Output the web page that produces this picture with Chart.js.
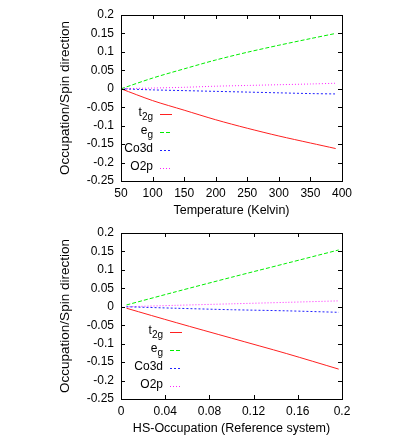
<!DOCTYPE html>
<html>
<head>
<meta charset="utf-8">
<script src="https://cdn.jsdelivr.net/npm/chart.js@4.4.0/dist/chart.umd.min.js"></script>
<style>
    body { margin: 0; background: #fff; }
    .wrap { position: absolute; left: 0; width: 415px; height: 218px; }
</style>
</head>
<body>
<div class="wrap" style="top:0"><canvas id="tempChart" width="415" height="218"></canvas></div>
<div class="wrap" style="top:218px"><canvas id="hsChart" width="415" height="218"></canvas></div>
<script>
// Datos: gráfico de arriba (temperatura)
const tempK = [50, 100, 150, 200, 250, 300, 350, 390];
const t2gTemp = [0, -0.032, -0.058, -0.084, -0.107, -0.128, -0.147, -0.162];
const egTemp = [0, 0.029, 0.054, 0.078, 0.099, 0.118, 0.136, 0.150];
const co3dTemp = [0, -0.003, -0.005, -0.007, -0.009, -0.011, -0.013, -0.014];
const o2pTemp = [0, 0.002, 0.004, 0.007, 0.009, 0.011, 0.013, 0.015];

// Datos: gráfico de abajo (ocupación HS)
const hsOcc = [0.005, 0.05, 0.1, 0.15, 0.197];
const t2gHs = [-0.004, -0.043, -0.085, -0.127, -0.169];
const egHs = [0.005, 0.041, 0.080, 0.118, 0.154];
const co3dHs = [0, -0.004, -0.008, -0.011, -0.015];
const o2pHs = [0, 0.004, 0.008, 0.012, 0.016];

// Ticks
const tempTicks = [50, 100, 150, 200, 250, 300, 350, 400];
const hsTicks = [0, 0.04, 0.08, 0.12, 0.16, 0.2];
const yTicks = [-0.25, -0.2, -0.15, -0.1, -0.05, 0, 0.05, 0.1, 0.15, 0.2];

// Leyenda: texto principal + subíndice
const seriesNames = [['t', '2g'], ['e', 'g'], ['Co3d', ''], ['O2p', '']];
const seriesColors = ['#ff2020', '#00ee00', '#2020ff', '#ff20ff'];
const seriesDash = [[], [4, 2], [2, 2], [1, 2]];

const FONT = 'Liberation Sans, Arial, sans-serif';

function toPoints(xs, ys) {
    return xs.map((x, i) => ({ x: x, y: ys[i] }));
}

// etiquetas sin ceros de relleno: 0.2 y no 0.20
function plainLabel(value) {
    return String(parseFloat(value.toFixed(4)));
}

// Marco completo con ticks hacia adentro (estilo gnuplot)
const framePlugin = {
    id: 'frame',
    afterDatasetsDraw(chart) {
        const ctx = chart.ctx;
        const a = chart.chartArea;
        const xs = chart.scales.x, ys = chart.scales.y;
        const len = 4;
        ctx.save();
        ctx.strokeStyle = '#000';
        ctx.lineWidth = 1;
        ctx.strokeRect(Math.round(a.left) + 0.5, Math.round(a.top) + 0.5,
            Math.round(a.right - a.left), Math.round(a.bottom - a.top));
        ctx.beginPath();
        xs.ticks.forEach(t => {
            const px = Math.round(xs.getPixelForValue(t.value)) + 0.5;
            ctx.moveTo(px, a.bottom); ctx.lineTo(px, a.bottom - len);
            ctx.moveTo(px, a.top); ctx.lineTo(px, a.top + len);
        });
        ys.ticks.forEach(t => {
            const py = Math.round(ys.getPixelForValue(t.value)) + 0.5;
            ctx.moveTo(a.left, py); ctx.lineTo(a.left + len, py);
            ctx.moveTo(a.right, py); ctx.lineTo(a.right - len, py);
        });
        ctx.stroke();
        ctx.restore();
    }
};

// Leyenda dentro del área, abajo a la izquierda
const legendPlugin = {
    id: 'innerLegend',
    afterDatasetsDraw(chart, args, opts) {
        const ctx = chart.ctx;
        const a = chart.chartArea;
        const textRight = a.left + opts.offsetX;
        ctx.save();
        ctx.textBaseline = 'middle';
        chart.data.datasets.forEach((ds, i) => {
            const y = a.bottom - opts.bottomGap - (3 - i) * opts.rowGap;
            const name = seriesNames[i];
            ctx.fillStyle = '#000';
            let subW = 0;
            if (name[1]) {
                ctx.font = '10px ' + FONT;
                subW = ctx.measureText(name[1]).width;
                ctx.textAlign = 'right';
                ctx.fillText(name[1], textRight, y + 3);
            }
            ctx.font = '12px ' + FONT;
            ctx.textAlign = 'right';
            ctx.fillText(name[0], textRight - subW, y - 1);
            ctx.strokeStyle = ds.borderColor;
            ctx.lineWidth = 1;
            ctx.setLineDash(ds.borderDash);
            ctx.beginPath();
            ctx.moveTo(textRight + 7, y + 0.5);
            ctx.lineTo(textRight + 19, y + 0.5);
            ctx.stroke();
        });
        ctx.restore();
    }
};

function buildChart(canvasId, xs, series, xTicks, xMin, xMax, xTitle, legendX) {
    const datasets = series.map((ys, i) => ({
        label: seriesNames[i].join(''),
        data: toPoints(xs, ys),
        borderColor: seriesColors[i],
        borderDash: seriesDash[i],
        borderWidth: 1,
        pointRadius: 0,
        showLine: true,
        tension: 0.3,
        fill: false
    }));

    const config = {
        type: 'scatter',
        data: { datasets: datasets },
        plugins: [framePlugin, legendPlugin],
        options: {
            responsive: false,
            animation: false,
            layout: { padding: { top: 15, right: 73, left: 55, bottom: 0 } },
            plugins: {
                legend: { display: false },
                tooltip: { enabled: false },
                innerLegend: { offsetX: legendX, bottomGap: 13, rowGap: 18 }
            },
            scales: {
                x: {
                    type: 'linear',
                    min: xMin,
                    max: xMax,
                    afterBuildTicks: s => { s.ticks = xTicks.map(v => ({ value: v })); },
                    afterFit: s => { s.height = 37; },
                    grid: { display: false, drawTicks: false },
                    border: { display: false },
                    ticks: { color: '#000', padding: 5, autoSkip: false, maxRotation: 0,
                        font: { family: FONT, size: 12 }, callback: plainLabel },
                    title: { display: true, text: xTitle, color: '#000',
                        font: { family: FONT, size: 12.5 }, padding: { top: 0, bottom: 0 } }
                },
                y: {
                    min: -0.25,
                    max: 0.2,
                    afterBuildTicks: s => { s.ticks = yTicks.map(v => ({ value: v })); },
                    afterFit: s => { s.width = 66; },
                    grid: { display: false, drawTicks: false },
                    border: { display: false },
                    ticks: { color: '#000', padding: 7, autoSkip: false,
                        font: { family: FONT, size: 12 }, callback: plainLabel },
                    title: { display: true, text: 'Occupation/Spin direction', color: '#000',
                        font: { family: FONT, size: 13.5 }, padding: 2 }
                }
            }
        }
    };

    const ctx = document.getElementById(canvasId).getContext('2d');
    return new Chart(ctx, config);
}

buildChart('tempChart', tempK, [t2gTemp, egTemp, co3dTemp, o2pTemp],
    tempTicks, 50, 400, 'Temperature (Kelvin)', 32);
buildChart('hsChart', hsOcc, [t2gHs, egHs, co3dHs, o2pHs],
    hsTicks, 0, 0.2, 'HS-Occupation (Reference system)', 42);
</script>
</body>
</html>
